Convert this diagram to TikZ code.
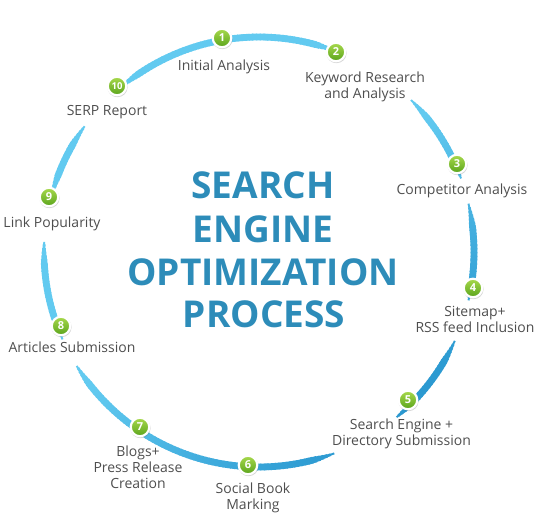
\documentclass[tikz,border=0pt]{standalone}
\usepackage{fontspec}
\setmainfont{Open Sans}
\usetikzlibrary{shadows}
\definecolor{ringlight}{HTML}{62CAF0}
\definecolor{ringdark}{HTML}{2A98D0}
\definecolor{titleblue}{HTML}{2D8CB9}
\definecolor{badgetop}{HTML}{A8DA4C}
\definecolor{badgebot}{HTML}{5AA31C}
\definecolor{labelgray}{HTML}{4E4E4E}
\tikzset{
  badge/.style={circle, minimum size=18.5pt, inner sep=0pt, draw=white, line width=2.2pt,
    top color=badgetop, bottom color=badgebot, text=white,
    font=\bfseries\fontsize{11}{11}\selectfont,
    drop shadow={shadow xshift=0.4pt, shadow yshift=-0.9pt, shadow scale=1.1, opacity=0.28, fill=black!60}},
  lbl/.style={text=labelgray, font=\fontsize{14}{16}\selectfont, align=center, inner sep=0pt},
  ttl/.style={text=titleblue, font=\bfseries\fontsize{37}{40}\selectfont, inner sep=0pt, anchor=base}
}
\newcommand\ringseg[2]{%
  \pgfmathsetmacro\segN{int(ceil((#2-#1)/1.0))}%
  \pgfmathsetmacro\segS{(#2-#1)/\segN}%
  \foreach \i in {1,...,\segN}{%
    \pgfmathsetmacro\aa{#1+(\i-1)*\segS}%
    \pgfmathsetmacro\bb{\aa+\segS*1.35}%
    \pgfmathsetmacro\bbb{min(\bb,#2)}%
    \pgfmathsetmacro\mm{min(\aa+\segS/2-#1, #2-\aa-\segS/2)}%
    \pgfmathsetmacro\ww{1.5+5.3*min(1,\mm/6)}%
    \pgfmathsetmacro\dk{max(0,cos(\aa-50))*100}%
    \draw[line width=\ww pt, color=ringdark!\dk!ringlight]
      (ctr) ++(\aa:215) arc[start angle=\aa, end angle=\bbb, radius=215];
  }%
}
\begin{document}
\begin{tikzpicture}[x=1pt,y=-1pt]
\useasboundingbox (0,0) rectangle (538,519);
\coordinate (ctr) at (259,252);
% ring
\ringseg{229.5}{291}
\ringseg{315}{340}
\ringseg{347}{373}
\ringseg{24.4}{50.2}
\ringseg{69.5}{148}
\ringseg{156}{182.7}
\ringseg{194.7}{215.8}
% title
\node[ttl] (ta) at (263,198) {SEARCH};
\node[ttl] (tb) at (263,242) {ENGINE};
\node[ttl] (tc) at (263,285) {OPTIMIZATION};
\node[ttl] (td) at (264,327) {PROCESS};
% badges
\node[badge] (b1) at (222,38) {1};
\node[badge] (b2) at (336,52) {2};
\node[badge] (b3) at (457,164) {3};
\node[badge] (b4) at (473,288) {4};
\node[badge] (b5) at (408,400) {5};
\node[badge] (b6) at (248,465) {6};
\node[badge] (b7) at (140,427) {7};
\node[badge] (b8) at (61,326) {8};
\node[badge] (b9) at (49,197) {9};
\node[badge, font=\bfseries\fontsize{9.5}{9.5}\selectfont] (b10) at (117,86) {10};
% labels
\node[lbl] (l1) at (224,67) {Initial Analysis};
\node[lbl] (l2) at (365,87) {Keyword Research\\and Analysis};
\node[lbl] (l3) at (462,191) {Competitor Analysis};
\node[lbl] (l4) at (475,319.5) {Sitemap+\\RSS feed Inclusion};
\node[lbl] (l5) at (401.5,433.5) {Search Engine +\\Directory Submission};
\node[lbl] (l6) at (253,498) {Social Book\\Marking};
\node[lbl] (l7) at (138,467.5) {Blogs+\\Press Release\\Creation};
\node[lbl] (l8) at (72,347) {Articles Submission};
\node[lbl] (l9) at (52,224) {Link Popularity};
\node[lbl] (l10) at (107,112) {SERP Report};
\end{tikzpicture}
\end{document}
